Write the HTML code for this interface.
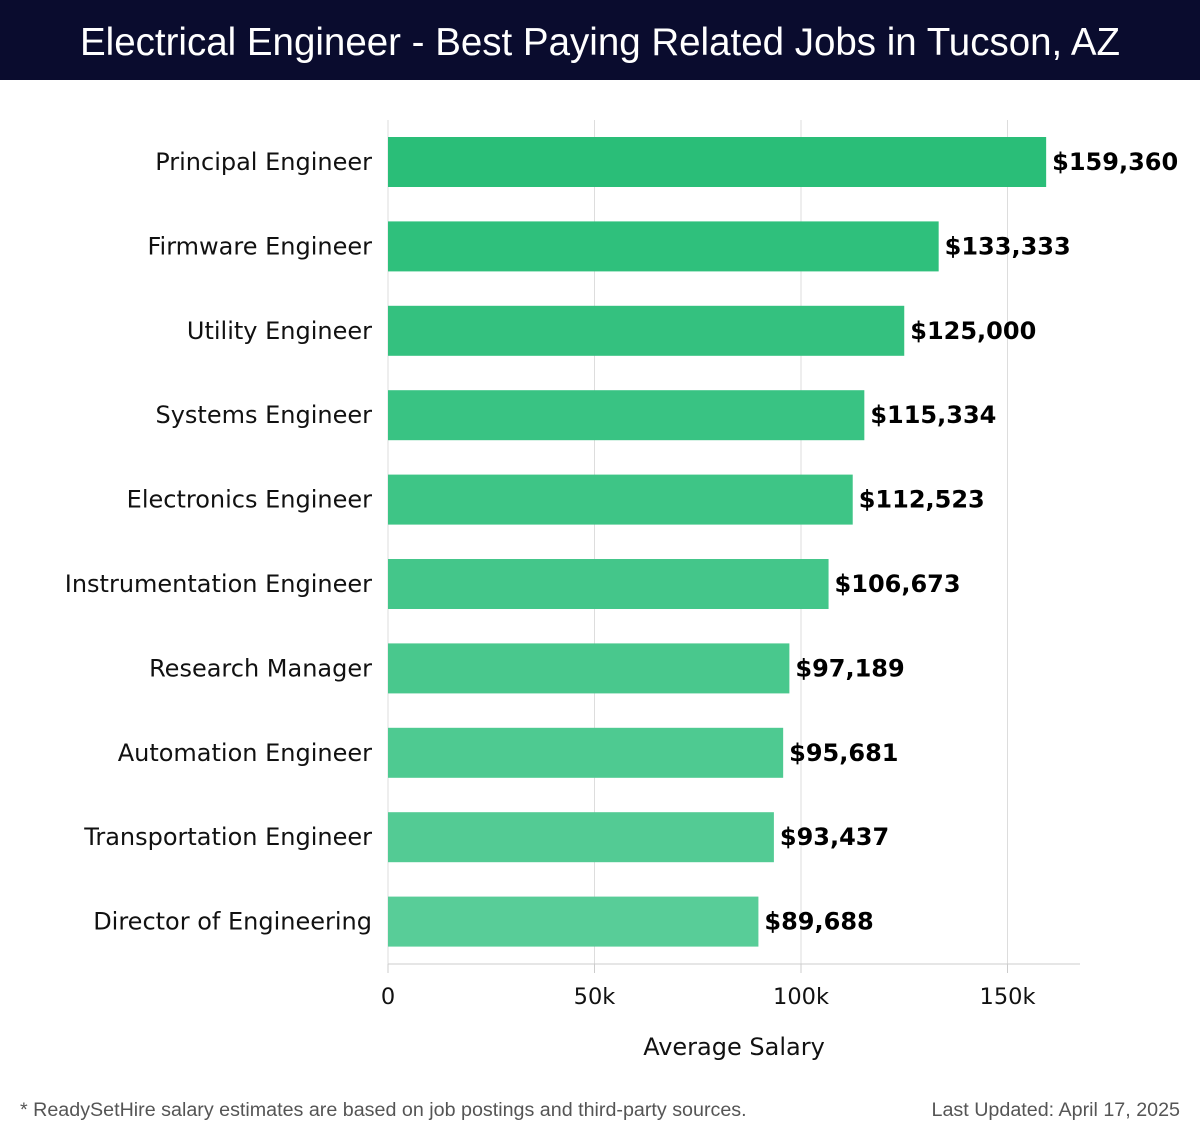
<!DOCTYPE html>
<html><head><meta charset="utf-8"><style>
body{margin:0;width:1200px;height:1140px;background:#fff;font-family:"DejaVu Sans","Liberation Sans",sans-serif;overflow:hidden;position:relative}
#hdr{position:absolute;left:0;top:0;width:1200px;height:80px;background:#0a0c2e;color:#fff;font-size:38.5px;text-align:center;line-height:86px;font-family:"Liberation Sans",sans-serif}
.foot{position:absolute;top:1099px;font-size:19.7px;color:#555;font-family:"Liberation Sans",sans-serif}
</style></head><body>
<div id="hdr">Electrical Engineer - Best Paying Related Jobs in Tucson, AZ</div>
<svg id="chart" width="1200" height="1140" style="position:absolute;left:0;top:0"></svg>
<div class="foot" style="left:20px">* ReadySetHire salary estimates are based on job postings and third-party sources.</div>
<div class="foot" style="right:20px">Last Updated: April 17, 2025</div>
<script>
const categories=["Principal Engineer","Firmware Engineer","Utility Engineer","Systems Engineer","Electronics Engineer","Instrumentation Engineer","Research Manager","Automation Engineer","Transportation Engineer","Director of Engineering"];
const values=[159360,133333,125000,115334,112523,106673,97189,95681,93437,89688];
const valueLabels=["$159,360","$133,333","$125,000","$115,334","$112,523","$106,673","$97,189","$95,681","$93,437","$89,688"];
const tickValues=[0,50000,100000,150000];
const tickLabels=["0","50k","100k","150k"];
const svg=document.getElementById('chart');
const NS='http://www.w3.org/2000/svg';
const x0=388,pxPer=206.5/50000,top0=120,step=84.4,barH=50,axisY=964,xr=1080;
const xs=v=>x0+v*pxPer;
const ys=i=>top0+17+i*step;
function mk(t,a,txt){const e=document.createElementNS(NS,t);for(const k in a)e.setAttribute(k,a[k]);if(txt!==undefined)e.textContent=txt;svg.appendChild(e);return e;}
tickValues.forEach((v,i)=>{
 const g=mk('line',{x1:xs(v),x2:xs(v),y1:top0,y2:axisY+(i==0?9:0),stroke:'#ddd','stroke-width':1});
 
 
 const t=mk('line',{x1:xs(v),x2:xs(v),y1:axisY,y2:axisY+9,stroke:'#ccc'});
 
 
 const l=mk('text',{x:xs(v),y:1004,'text-anchor':'middle','font-size':22.5,fill:'#111'},tickLabels[i]);
 
 
});
const ax=mk('line',{x1:x0,x2:xr,y1:axisY,y2:axisY,stroke:'#ccc'});


categories.forEach((c,i)=>{
 const f=i/(categories.length-1);
 const r=Math.round(42+f*(88-42)),g=Math.round(190+f*(205-190)),b=Math.round(120+f*(152-120));
 const y=ys(i);
 const bar=mk('rect',{x:x0,y:y,width:xs(values[i])-x0,height:barH,fill:`rgb(${r},${g},${b})`});
 
 
 const lab=mk('text',{x:372,y:y+barH/2+8,'text-anchor':'end','font-size':24,fill:'#111'},c);
 
 
 const vl=mk('text',{x:xs(values[i])+6,y:y+barH/2+8,'font-size':24,'font-weight':'bold',fill:'#000'},valueLabels[i]);
 
 
});
const xt=mk('text',{x:734,y:1055,'text-anchor':'middle','font-size':24,fill:'#111'},'Average Salary');


</script>
</body></html>
